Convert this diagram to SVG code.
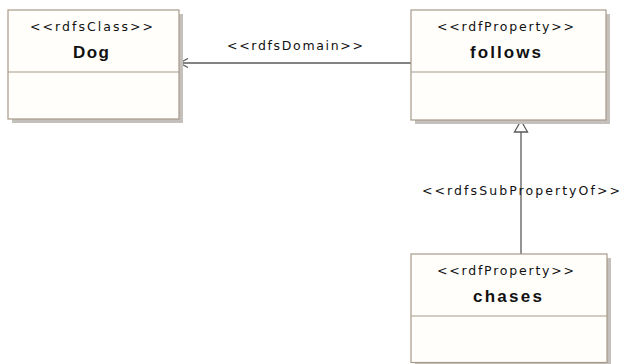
<svg xmlns="http://www.w3.org/2000/svg" width="623" height="364" viewBox="0 0 623 364">
<style>
.shadow{fill:#c4c0bc;stroke:none}
.box{fill:#fffefb;stroke:#a89a8a;stroke-width:1.2}
.div{stroke:#a89a8a;stroke-width:1.2}
.st{font-family:"DejaVu Sans",Verdana,sans-serif;font-size:12.5px;fill:#111}
.nm{font-family:"Liberation Sans",Arial,sans-serif;font-size:17px;font-weight:bold;fill:#111}
.lbl{font-family:"DejaVu Sans",Verdana,sans-serif;font-size:12.5px;fill:#111}
.conn{stroke:#5a5a5a;stroke-width:1.3;fill:none}
</style>
<rect width="623" height="364" fill="#ffffff"/>
<g id="connectors">
<line class="conn" x1="411" y1="63" x2="179" y2="63"/>
<polyline class="conn" points="188,58.5 179.5,63 188,67.5"/>
<text class="lbl" x="227" y="50" textLength="136" lengthAdjust="spacing">&lt;&lt;rdfsDomain&gt;&gt;</text>
<line class="conn" x1="521" y1="132" x2="521" y2="254"/>
<polygon points="521,120.5 514.5,132 527.5,132" fill="#ffffff" stroke="#5a5a5a" stroke-width="1.3"/>
<text class="lbl" x="422" y="195" textLength="198" lengthAdjust="spacing">&lt;&lt;rdfsSubPropertyOf&gt;&gt;</text>
</g>
<g id="dog">
<rect class="shadow" x="12" y="14" width="171" height="109"/>
<rect class="box" x="8" y="10" width="171" height="109"/>
<line class="div" x1="8" y1="72" x2="179" y2="72"/>
<text class="st" x="30" y="30.5" textLength="123" lengthAdjust="spacing">&lt;&lt;rdfsClass&gt;&gt;</text>
<text class="nm" x="73" y="57.5" textLength="36" lengthAdjust="spacing">Dog</text>
</g>
<g id="follows">
<rect class="shadow" x="415" y="14" width="195" height="110"/>
<rect class="box" x="411" y="10" width="195" height="110"/>
<line class="div" x1="411" y1="72" x2="606" y2="72"/>
<text class="st" x="437" y="30.5" textLength="137" lengthAdjust="spacing">&lt;&lt;rdfProperty&gt;&gt;</text>
<text class="nm" x="470" y="57.5" textLength="71" lengthAdjust="spacing">follows</text>
</g>
<g id="chases">
<rect class="shadow" x="415" y="258" width="196" height="109"/>
<rect class="box" x="411" y="254" width="196" height="108.5"/>
<line class="div" x1="411" y1="316" x2="607" y2="316"/>
<text class="st" x="437" y="274.5" textLength="137" lengthAdjust="spacing">&lt;&lt;rdfProperty&gt;&gt;</text>
<text class="nm" x="473" y="301.5" textLength="69" lengthAdjust="spacing">chases</text>
</g>
</svg>
